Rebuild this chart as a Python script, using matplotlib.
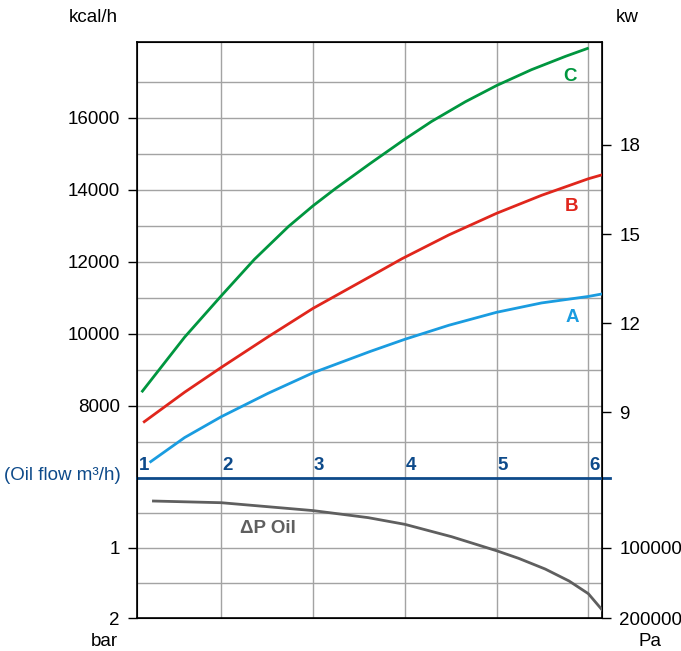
import matplotlib.pyplot as plt

plt.rcParams['font.family'] = ['Liberation Sans', 'DejaVu Sans']

# oil flow (m3/h) vs heat output (kcal/h)
flow_a = [1.23, 1.6, 2, 2.51, 3, 3.62, 4, 4.48, 5, 5.49, 6, 6.15]
kcal_a = [6440, 7110, 7690, 8340, 8910, 9500, 9840, 10230, 10590, 10850, 11030, 11100]
flow_b = [1.16, 1.6, 2, 2.51, 3, 3.62, 3.97, 4.48, 5, 5.49, 6, 6.15]
kcal_b = [7550, 8370, 9060, 9910, 10700, 11580, 12080, 12740, 13340, 13840, 14300, 14410]
flow_c = [1.14, 1.6, 2, 2.36, 2.73, 3, 3.24, 3.62, 4, 4.29, 4.66, 5, 5.38, 5.75, 5.99]
kcal_c = [8400, 9900, 11050, 12060, 12970, 13550, 14020, 14720, 15400, 15890, 16440,
          16890, 17330, 17700, 17920]

# oil pressure drop (bar)
flow_dp = [1.26, 2, 3, 3.6, 4, 4.51, 5, 5.24, 5.53, 5.79, 6, 6.15]
dp_bar = [0.334, 0.358, 0.47, 0.57, 0.665, 0.841, 1.04, 1.148, 1.30, 1.47, 1.65, 1.88]

flow_ticks = [1, 2, 3, 4, 5, 6]
kcal_ticks = [8000, 10000, 12000, 14000, 16000]
kw_ticks = [9, 12, 15, 18]
bar_ticks = [1, 2]
pa_ticks = [100000, 200000]

GRID = '#a3a3a3'
NAVY = '#0d4a8a'
FS = 13.5
xlim = (1.081, 6.149)

fig = plt.figure(figsize=(6.81, 6.51), dpi=100)
ax = fig.add_axes([0.2012, 0.2665, 0.6828, 0.669])
axb = fig.add_axes([0.2012, 0.0502, 0.6828, 0.2163])

for a in (ax, axb):
    a.set_xlim(*xlim)
    a.set_xticks([])
    for x in flow_ticks[1:]:
        a.axvline(x, color=GRID, lw=1.0, zorder=1)
    for s in a.spines.values():
        s.set_linewidth(1.2)

# upper part: heat output
ax.set_ylim(6000, 18100)
for y in range(7000, 18000, 1000):
    ax.axhline(y, color=GRID, lw=1.0, zorder=1)
ax.spines['bottom'].set_visible(False)
ax.set_yticks(kcal_ticks)
ax.set_yticklabels([str(v) for v in kcal_ticks], fontsize=FS)
ax.tick_params(axis='y', direction='out', length=6.5, width=1.0, pad=6)

ax.plot(flow_a, kcal_a, color='#1a9ce0', lw=2.0, zorder=3)
ax.plot(flow_b, kcal_b, color='#e0261c', lw=2.0, zorder=3)
ax.plot(flow_c, kcal_c, color='#00963f', lw=2.0, zorder=3)
ax.text(5.82, 10450, 'A', color='#1a9ce0', fontsize=FS, fontweight='bold', ha='center', va='center')
ax.text(5.82, 13520, 'B', color='#e0261c', fontsize=FS, fontweight='bold', ha='center', va='center')
ax.text(5.80, 17150, 'C', color='#00963f', fontsize=FS, fontweight='bold', ha='center', va='center')

for i, x in enumerate(flow_ticks):
    xx = xlim[0] + 0.02 if i == 0 else x + 0.01
    ax.text(xx, 6100, str(x), color=NAVY, fontsize=FS, fontweight='bold', ha='left', va='bottom')

axk = ax.twinx()
axk.set_ylim(6.805, 21.468)
axk.set_yticks(kw_ticks)
axk.set_yticklabels([str(v) for v in kw_ticks], fontsize=FS)
axk.tick_params(axis='y', direction='out', length=6.5, width=1.0, pad=6)
axk.spines['bottom'].set_visible(False)

# lower part: pressure drop
axb.set_ylim(2, 0)
for y in (0.5, 1.0, 1.5):
    axb.axhline(y, color=GRID, lw=1.0, zorder=1)
axb.spines['top'].set_visible(False)
axb.set_yticks(bar_ticks)
axb.set_yticklabels([str(v) for v in bar_ticks], fontsize=FS)
axb.tick_params(axis='y', direction='out', length=6.5, width=1.0, pad=6)
axb.plot(flow_dp, dp_bar, color='#5f5f5f', lw=2.0, zorder=3)
axb.text(2.2, 0.72, '\u0394P Oil', color='#5f5f5f', fontsize=FS, fontweight='bold', ha='left', va='center')
axb.axhline(0, xmin=0, xmax=1.018, color=NAVY, lw=2.0, clip_on=False, zorder=4)

axp = axb.twinx()
axp.set_ylim(200000, 0)
axp.set_yticks(pa_ticks)
axp.set_yticklabels([str(v) for v in pa_ticks], fontsize=FS)
axp.tick_params(axis='y', direction='out', length=6.5, width=1.0, pad=6)
axp.spines['top'].set_visible(False)

# axis captions
fig.text(118 / 681, 1 - 17 / 651, 'kcal/h', fontsize=FS, ha='right', va='center')
fig.text(616 / 681, 1 - 17 / 651, 'kw', fontsize=FS, ha='left', va='center')
fig.text(121 / 681, 1 - 475 / 651, '(Oil flow m\u00b3/h)', fontsize=FS, color=NAVY, ha='right', va='center')
fig.text(118 / 681, 1 - 641 / 651, 'bar', fontsize=FS, ha='right', va='center')
fig.text(650 / 681, 1 - 641 / 651, 'Pa', fontsize=FS, ha='center', va='center')

fig.savefig('out.png', dpi=100)
